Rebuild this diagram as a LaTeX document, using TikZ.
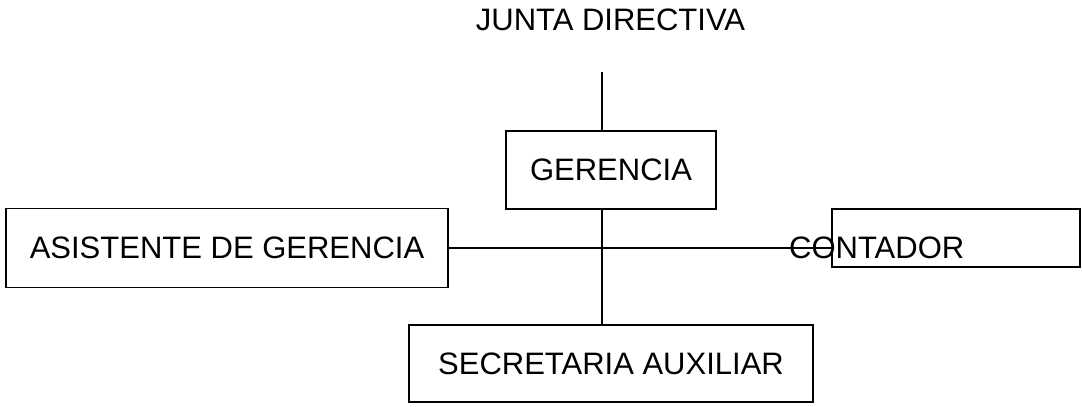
\documentclass[tikz,border=0pt]{standalone}
\usepackage{fontspec}
\setmainfont{Liberation Sans}
\begin{document}
\begin{tikzpicture}[x=1pt,y=-1pt,
  every node/.style={font=\fontsize{31}{36}\selectfont, inner sep=0pt},
  box/.style={draw, line width=1.8pt},
  conn/.style={line width=1.8pt}]
\useasboundingbox (0,0) rectangle (1082,407);
\node (junta) at (610.5,20) {JUNTA DIRECTIVA};
\node[box, minimum width=210pt, minimum height=78pt] (gerencia) at (611,170) {GERENCIA};
\node[box, minimum width=442pt, minimum height=79pt] (asistente) at (227,248) {ASISTENTE DE GERENCIA};
\node[box, minimum width=248pt, minimum height=58pt] (contador) at (956,238) {};
\node[anchor=base west] (contadortxt) at (789,258) {CONTADOR};
\node[box, minimum width=404pt, minimum height=77pt] (secretaria) at (611,363.5) {SECRETARIA AUXILIAR};
\coordinate (top) at (602,72);
\draw[conn] (top) -- (top |- gerencia.north);
\draw[conn] (top |- gerencia.south) -- (top |- secretaria.north);
\draw[conn] (asistente.east) -- (asistente.east -| contador.west);
\end{tikzpicture}
\end{document}
